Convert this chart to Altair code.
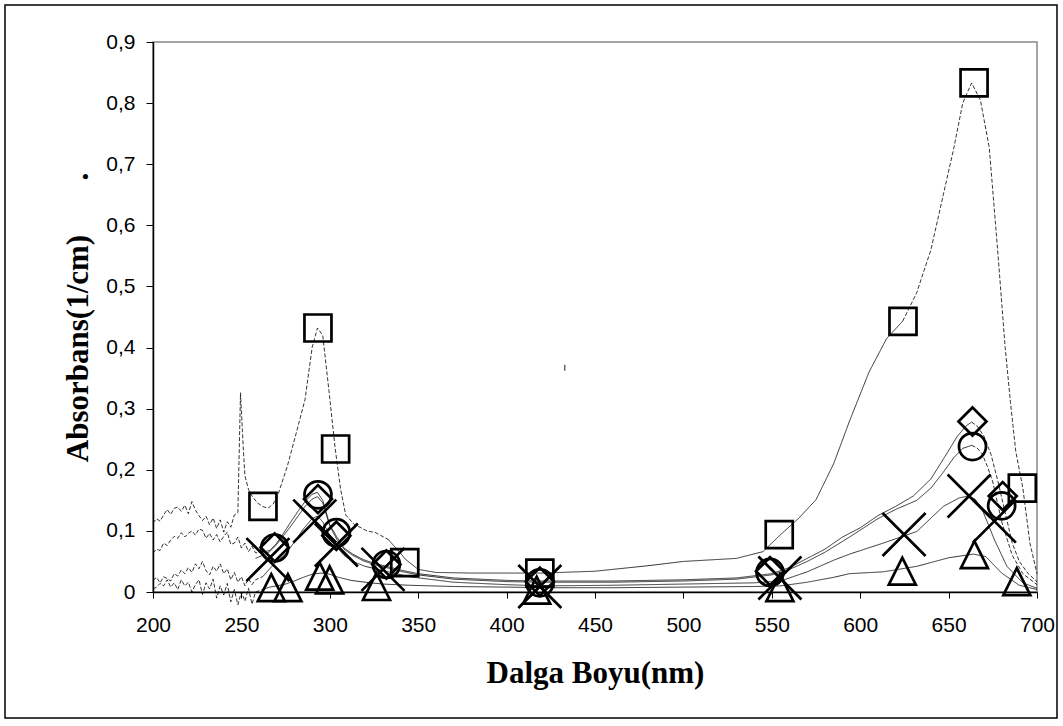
import altair as alt
import pandas as pd

# ---------------- data ----------------
x_ticks = [200, 250, 300, 350, 400, 450, 500, 550, 600, 650, 700]
y_ticks = [0, 0.1, 0.2, 0.3, 0.4, 0.5, 0.6, 0.7, 0.8, 0.9]

wl_square = [200, 202, 204, 206, 208, 210, 212, 214, 216, 218,
             220, 222, 224, 226, 228, 230, 232, 234, 236, 238,
             240, 242, 244, 246, 248, 249.5, 251, 252, 254, 256,
             259, 262, 265, 268, 271, 276, 281, 286, 290, 293,
             296, 299.5, 303, 306, 309, 314, 317, 321, 326, 333,
             338, 343, 350, 360, 380, 400, 420, 450, 480, 500,
             530, 545, 555, 565, 575, 585, 594, 605, 615, 624,
             632, 640, 647, 653, 658, 663, 668, 673, 678, 682,
             685, 688, 692, 696, 700]
ab_square = [0.113, 0.12, 0.116, 0.126, 0.135, 0.127, 0.137, 0.139, 0.132, 0.142,
             0.128, 0.148, 0.134, 0.125, 0.117, 0.124, 0.11, 0.121, 0.104, 0.118,
             0.098, 0.115, 0.106, 0.126, 0.13, 0.326, 0.238, 0.19, 0.168, 0.157,
             0.146, 0.14, 0.137, 0.144, 0.162, 0.206, 0.26, 0.315, 0.4, 0.432,
             0.42, 0.33, 0.236, 0.17, 0.126, 0.11, 0.106, 0.1, 0.097, 0.086,
             0.07, 0.053, 0.037, 0.032, 0.031, 0.031, 0.031, 0.034, 0.043, 0.05,
             0.055, 0.066, 0.094, 0.12, 0.151, 0.21, 0.28, 0.36, 0.415, 0.443,
             0.49, 0.56, 0.65, 0.727, 0.8, 0.833, 0.805, 0.727, 0.55, 0.4,
             0.31, 0.23, 0.17, 0.08, 0.03]

wl_diamond = [200, 202, 204, 206, 208, 210, 212, 214, 216, 218,
              220, 222, 224, 226, 228, 230, 232, 234, 236, 238,
              240, 242, 244, 246, 248, 250, 252, 254, 256, 258,
              262, 266, 270, 274, 278, 282, 286, 290, 293, 296,
              300, 304, 308, 313, 319, 325, 332, 340, 350, 370,
              400, 420, 460, 500, 530, 550, 560, 570, 580, 590,
              600, 610, 620, 630, 640, 648, 655, 660, 663, 666,
              670, 674, 678, 682, 686, 690, 695, 700]
ab_diamond = [0.064, 0.07, 0.068, 0.08, 0.076, 0.085, 0.091, 0.088, 0.097, 0.09,
              0.096, 0.1, 0.093, 0.103, 0.101, 0.088, 0.096, 0.085, 0.094, 0.082,
              0.091, 0.098, 0.078, 0.08, 0.09, 0.072, 0.08, 0.066, 0.075, 0.064,
              0.065, 0.068, 0.08, 0.097, 0.115, 0.132, 0.148, 0.16, 0.163, 0.15,
              0.11, 0.09, 0.072, 0.062, 0.053, 0.047, 0.042, 0.036, 0.03, 0.023,
              0.019, 0.018, 0.018, 0.02, 0.023, 0.03, 0.04, 0.055, 0.07, 0.09,
              0.105, 0.125, 0.14, 0.157, 0.185, 0.222, 0.255, 0.272, 0.278, 0.272,
              0.255, 0.225, 0.18, 0.13, 0.08, 0.05, 0.03, 0.017]

wl_circle = [258, 262, 266, 270, 274, 278, 282, 286, 290, 293,
             296, 300, 304, 308, 313, 319, 325, 332, 340, 350,
             370, 400, 420, 460, 500, 530, 550, 560, 570, 580,
             594, 610, 620, 632, 640, 647, 653, 658, 663, 666,
             669, 672, 675, 680, 686, 692, 700]
ab_circle = [0.055, 0.06, 0.066, 0.078, 0.093, 0.108, 0.124, 0.14, 0.152, 0.156,
             0.146, 0.108, 0.086, 0.07, 0.06, 0.051, 0.045, 0.04, 0.034, 0.028,
             0.021, 0.017, 0.016, 0.016, 0.018, 0.021, 0.028, 0.037, 0.05, 0.065,
             0.09, 0.12, 0.135, 0.15, 0.17, 0.196, 0.22, 0.235, 0.24, 0.236,
             0.226, 0.205, 0.18, 0.115, 0.06, 0.03, 0.012]

wl_cross = [200, 202, 204, 206, 208, 210, 212, 214, 216, 218,
            220, 222, 224, 226, 228, 230, 232, 234, 236, 238,
            240, 242, 244, 246, 248, 250, 252, 254, 256, 258,
            262, 266, 270, 275, 280, 285, 290, 293, 296, 300,
            304, 308, 313, 320, 330, 345, 370, 400, 420, 460,
            500, 540, 555, 570, 585, 594, 613, 632, 647, 656,
            661, 665, 669, 676, 683, 692, 700]
ab_cross = [0.019, 0.024, 0.015, 0.025, 0.022, 0.018, 0.03, 0.026, 0.036, 0.03,
            0.04, 0.032, 0.046, 0.038, 0.05, 0.035, 0.028, 0.042, 0.034, 0.046,
            0.03, 0.038, 0.02, 0.032, 0.016, 0.025, 0.01, 0.022, 0.012, 0.02,
            0.025, 0.038, 0.05, 0.062, 0.082, 0.103, 0.12, 0.124, 0.115, 0.092,
            0.074, 0.06, 0.05, 0.042, 0.035, 0.025, 0.016, 0.012, 0.01, 0.011,
            0.013, 0.015, 0.018, 0.033, 0.052, 0.062, 0.08, 0.099, 0.14, 0.154,
            0.157, 0.152, 0.135, 0.085, 0.042, 0.015, 0.006]

wl_tri = [200, 202, 204, 206, 208, 210, 212, 214, 216, 218,
          220, 222, 224, 226, 228, 230, 232, 234, 236, 238,
          240, 242, 244, 246, 248, 250, 252, 254, 256, 258,
          262, 266, 270, 275, 280, 285, 290, 295, 300, 305,
          312, 320, 330, 345, 370, 400, 420, 460, 500, 540,
          555, 570, 585, 594, 613, 632, 650, 664, 671, 680,
          690, 700]
ab_tri = [0.005, 0.008, 0.014, 0.01, 0.02, 0.008, 0.015, 0.004, 0.02, 0.01,
          0.016, 0.0, 0.012, 0.02, -0.004, 0.015, 0.005, 0.021, -0.01, 0.01,
          -0.005, 0.014, -0.016, 0.004, -0.021, 0.0, -0.015, 0.006, -0.02, 0.0,
          0.004, 0.008, 0.01, 0.013, 0.018, 0.024, 0.029, 0.031, 0.029, 0.024,
          0.019, 0.016, 0.013, 0.011, 0.009, 0.008, 0.007, 0.007, 0.008, 0.009,
          0.01, 0.016, 0.024, 0.03, 0.033, 0.042, 0.056, 0.062, 0.058, 0.031,
          0.011, 0.004]

# marker positions
mk_square_wl = [262.2, 293.3, 303.3, 342.4, 418.8, 554.2, 624.2, 664.4, 691.7]
mk_square_ab = [0.14, 0.432, 0.234, 0.048, 0.031, 0.094, 0.443, 0.833, 0.17]
mk_diamond_wl = [268.8, 293.3, 303.7, 332, 418.8, 549, 663.5, 680.6]
mk_diamond_ab = [0.073, 0.152, 0.092, 0.045, 0.017, 0.034, 0.279, 0.157]
mk_circle_wl = [268.8, 293.3, 303.7, 332, 418.8, 549, 663.5, 680]
mk_circle_ab = [0.072, 0.159, 0.097, 0.045, 0.015, 0.032, 0.238, 0.141]
mk_cross_wl = [265, 291.5, 303.7, 330.1, 418.8, 554.6, 624.8, 661.6, 675.9]
mk_cross_ab = [0.053, 0.116, 0.077, 0.037, 0.009, 0.023, 0.094, 0.157, 0.116]
mk_tri_wl = [266.9, 276.3, 294.3, 299.9, 326.4, 417, 554.6, 623.8, 664.6, 688.6]
mk_tri_ab = [0.007, 0.007, 0.026, 0.02, 0.009, 0.003, 0.007, 0.034, 0.061, 0.017]

# ---------------- styling ----------------
dashed_ranges = {
    "square": [(200, 333), (624, 700)],
    "diamond": [(200, 262), (663, 700)],
    "circle": [(663, 700)],
    "cross": [(200, 262)],
    "triangle": [(200, 262)],
}
marker_style = {  # shape path, symbol size (area, px^2)
    "square": ("square", 729),
    "diamond": ("diamond", 784),
    "circle": ("circle", 729),
    "cross": ("M-1,-1L1,1M-1,1L1,-1", 1850),
    "triangle": ("M0,-1L1,1L-1,1Z", 729),
}
series_lines = [
    ("square", wl_square, ab_square),
    ("diamond", wl_diamond, ab_diamond),
    ("circle", wl_circle, ab_circle),
    ("cross", wl_cross, ab_cross),
    ("triangle", wl_tri, ab_tri),
]
series_marks = [
    ("square", mk_square_wl, mk_square_ab),
    ("diamond", mk_diamond_wl, mk_diamond_ab),
    ("circle", mk_circle_wl, mk_circle_ab),
    ("cross", mk_cross_wl, mk_cross_ab),
    ("triangle", mk_tri_wl, mk_tri_ab),
]

line_rows = []
for name, xs, ys in series_lines:
    seg = 0
    prev = None
    for i in range(len(xs) - 1):
        mid = (xs[i] + xs[i + 1]) / 2
        flag = "dashed" if any(lo <= mid <= hi for lo, hi in dashed_ranges[name]) else "solid"
        if flag != prev:
            seg += 1
            line_rows.append({"grp": f"{name}{seg}", "dash": flag, "wl": xs[i], "ab": ys[i], "ord": i})
            prev = flag
        line_rows.append({"grp": f"{name}{seg}", "dash": flag, "wl": xs[i + 1], "ab": ys[i + 1], "ord": i + 1})
lines_df = pd.DataFrame(line_rows)

LABEL_FONT = "Liberation Sans"
TITLE_FONT = "Liberation Serif"

x_enc = alt.X(
    "wl:Q",
    scale=alt.Scale(domain=[200, 700], nice=False, zero=False),
    axis=alt.Axis(
        values=x_ticks, format="d", title="Dalga Boyu(nm)",
        labelFont=LABEL_FONT, labelFontSize=21, labelColor="black",
        labelPadding=16, labelFlush=False, labelOverlap=False,
        tickSize=6, tickColor="black", domainColor="black", domainWidth=1.5,
        titleFont=TITLE_FONT, titleFontSize=31, titleFontWeight="bold",
        titleColor="black", titlePadding=23, grid=False,
    ),
)
y_enc = alt.Y(
    "ab:Q",
    scale=alt.Scale(domain=[0, 0.9], nice=False, zero=False),
    axis=alt.Axis(
        values=y_ticks,
        labelExpr="datum.value == 0 ? '0' : replace(format(datum.value, '.1f'), '.', ',')",
        title="Absorbans(1/cm)" + "\u00a0" * 7 + ".",
        labelFont=LABEL_FONT, labelFontSize=21, labelColor="black",
        labelPadding=11, labelOverlap=False,
        tickSize=7, tickColor="black", domainColor="black", domainWidth=1.5,
        titleFont=TITLE_FONT, titleFontSize=31, titleFontWeight="bold",
        titleColor="black", titlePadding=11, grid=False,
    ),
)

frame = alt.Chart(pd.DataFrame({"k": [0]})).mark_rect(
    fillOpacity=0, stroke="black", strokeWidth=1.5
).encode(
    x=alt.value(-148), x2=alt.value(904), y=alt.value(-37), y2=alt.value(676)
)

lines = alt.Chart(lines_df).mark_line(color="black", strokeWidth=0.8).encode(
    x=x_enc,
    y=y_enc,
    detail="grp:N",
    order="ord:Q",
    strokeDash=alt.StrokeDash(
        "dash:N",
        scale=alt.Scale(domain=["solid", "dashed"], range=[[1, 0], [4, 2]]),
        legend=None,
    ),
)

marker_layers = []
for name, xs, ys in series_marks:
    shp, sz = marker_style[name]
    df = pd.DataFrame({"wl": xs, "ab": ys})
    marker_layers.append(
        alt.Chart(df).mark_point(
            shape=shp, size=sz, filled=False, color="black", strokeWidth=2.7, opacity=1
        ).encode(x="wl:Q", y="ab:Q")
    )

stray_wl = [432.9]
stray_ab = [0.367]
stray = alt.Chart(pd.DataFrame({"wl": stray_wl, "ab": stray_ab})).mark_point(
    shape="M0,-1L0,1", size=36, strokeWidth=1.2, color="#444", opacity=1
).encode(x="wl:Q", y="ab:Q")

chart = alt.layer(frame, lines, *marker_layers, stray).properties(
    width=884,
    height=550,
    autosize=alt.AutoSizeParams(type="none"),
    padding={"left": 153, "top": 42, "right": 26, "bottom": 134},
    background="white",
).configure_view(stroke="#888888", strokeWidth=1.5)

chart.save("out.html", embed_options={"renderer": "svg", "actions": False})
